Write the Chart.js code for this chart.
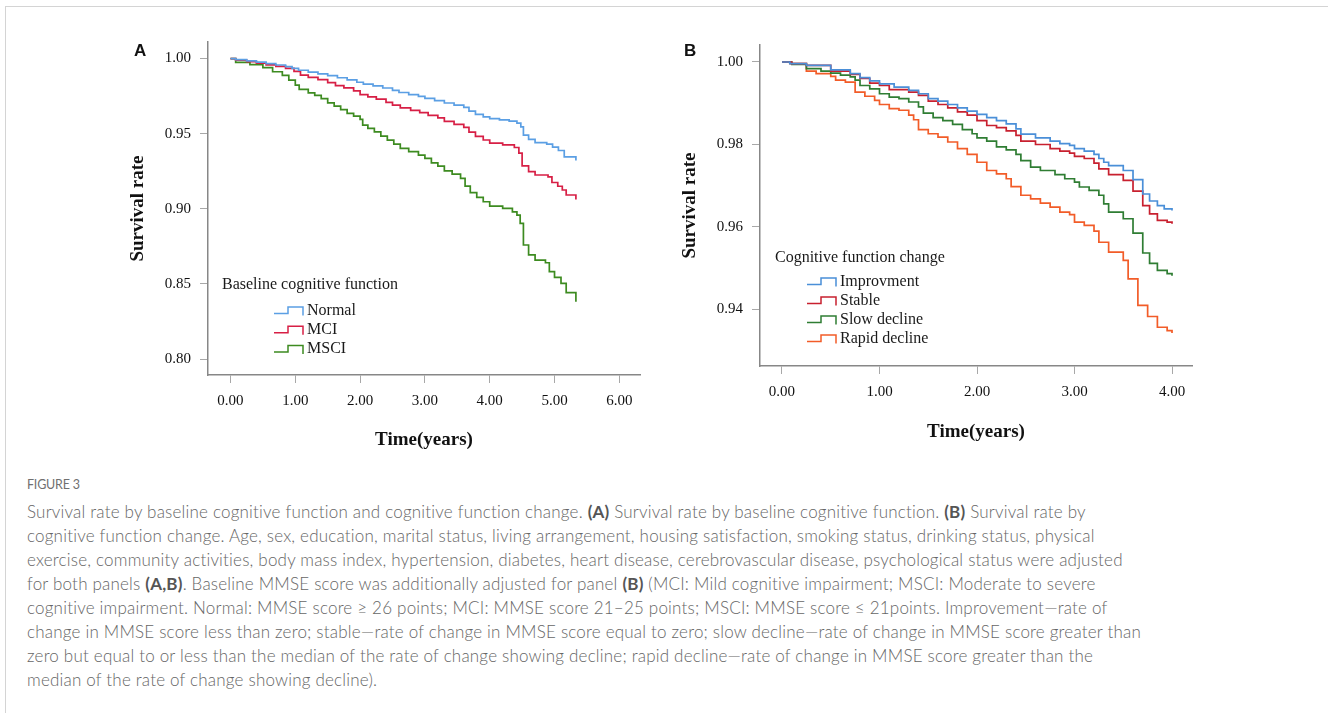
<!DOCTYPE html>
<html>
<head>
<meta charset="utf-8">
<script src="https://cdn.jsdelivr.net/npm/chart.js@4.4.1/dist/chart.umd.min.js"></script>
<style>
    html, body { margin: 0; padding: 0; background: #fff; }
    body { width: 1328px; height: 713px; position: relative; overflow: hidden; }
    .frame { position: absolute; left: 5px; top: 6px; width: 1330px; height: 710px; border-top: 1px solid #d4d4d4; border-left: 1px solid #d4d4d4; }
    #chartA { position: absolute; left: 0; top: 0; }
    #chartB { position: absolute; left: 660px; top: 0; }
    .panel-tag { position: absolute; font: bold 17px "Liberation Sans", Arial, sans-serif; color: #111; line-height: 20px; }
    .fig-label { position: absolute; left: 27px; top: 475px; font: 12.5px Lato, "Open Sans", sans-serif; color: #707070; letter-spacing: -0.2px; line-height: 20px; }
    .caption { position: absolute; left: 27px; top: 500px; font: 300 17px Lato, "Open Sans", sans-serif; color: #666; letter-spacing: 0.2px; line-height: 24px; white-space: nowrap; }
    .caption b { color: #555; font-weight: 700; }
</style>
</head>
<body>
<div class="frame"></div>
<canvas id="chartA" width="660" height="460"></canvas>
<canvas id="chartB" width="668" height="460"></canvas>
<div class="panel-tag" style="left:134px; top:41px;">A</div>
<div class="panel-tag" style="left:684px; top:41px;">B</div>

<div class="fig-label">FIGURE 3</div>
<div class="caption">
Survival rate by baseline cognitive function and cognitive function change. <b>(A)</b> Survival rate by baseline cognitive function. <b>(B)</b> Survival rate by<br>
cognitive function change. Age, sex, education, marital status, living arrangement, housing satisfaction, smoking status, drinking status, physical<br>
exercise, community activities, body mass index, hypertension, diabetes, heart disease, cerebrovascular disease, psychological status were adjusted<br>
for both panels <b>(A,B)</b>. Baseline MMSE score was additionally adjusted for panel <b>(B)</b> (MCI: Mild cognitive impairment; MSCI: Moderate to severe<br>
cognitive impairment. Normal: MMSE score ≥ 26 points; MCI: MMSE score 21–25 points; MSCI: MMSE score ≤ 21points. Improvement—rate of<br>
change in MMSE score less than zero; stable—rate of change in MMSE score equal to zero; slow decline—rate of change in MMSE score greater than<br>
zero but equal to or less than the median of the rate of change showing decline; rapid decline—rate of change in MMSE score greater than the<br>
median of the rate of change showing decline).
</div>

<script>
// ---- panel A: baseline cognitive function ----
const xTicksA = [0, 1, 2, 3, 4, 5, 6];
const yTicksA = [0.80, 0.85, 0.90, 0.95, 1.00];
const groupsA = ["Normal", "MCI", "MSCI"];

const normalT = [0, 0.08, 0.25, 0.4, 0.55, 0.7, 0.85, 0.95, 1.05, 1.2, 1.35, 1.5, 1.65, 1.8, 1.95, 2.05, 2.2, 2.35, 2.5, 2.6, 2.75, 2.9, 3.0, 3.15, 3.3, 3.45, 3.6, 3.68, 3.78, 3.9, 4.0, 4.15, 4.3, 4.42, 4.48, 4.52, 4.6, 4.7, 4.88, 4.97, 5.06, 5.15, 5.33];
const normalS = [1.0, 0.9993, 0.9985, 0.9976, 0.9966, 0.9957, 0.9946, 0.9935, 0.9922, 0.991, 0.9898, 0.9886, 0.9872, 0.9858, 0.9842, 0.983, 0.9818, 0.9804, 0.9788, 0.9774, 0.976, 0.9748, 0.9735, 0.972, 0.9704, 0.969, 0.9675, 0.965, 0.9628, 0.9612, 0.96, 0.9592, 0.9583, 0.957, 0.9545, 0.949, 0.9462, 0.944, 0.943, 0.941, 0.9388, 0.9345, 0.9322];

const mciT = [0, 0.08, 0.25, 0.4, 0.55, 0.7, 0.85, 0.98, 1.08, 1.2, 1.35, 1.5, 1.62, 1.75, 1.9, 2.0, 2.12, 2.25, 2.4, 2.5, 2.62, 2.78, 2.92, 3.05, 3.2, 3.3, 3.45, 3.6, 3.68, 3.78, 3.9, 4.0, 4.2, 4.38, 4.45, 4.5, 4.6, 4.7, 4.9, 4.96, 5.05, 5.12, 5.18, 5.33];
const mciS = [1.0, 0.999, 0.998, 0.997, 0.9958, 0.9948, 0.9935, 0.9915, 0.989, 0.9875, 0.986, 0.984, 0.982, 0.9805, 0.9785, 0.976, 0.9745, 0.973, 0.9708, 0.969, 0.9672, 0.9655, 0.964, 0.9622, 0.9605, 0.9582, 0.9562, 0.9542, 0.951, 0.9482, 0.9458, 0.9437, 0.9425, 0.9408, 0.937, 0.9285, 0.9248, 0.9225, 0.9212, 0.9175, 0.915, 0.9125, 0.9092, 0.9062];

const msciT = [0, 0.08, 0.3, 0.5, 0.65, 0.8, 0.9, 1.0, 1.06, 1.2, 1.3, 1.4, 1.5, 1.6, 1.7, 1.8, 1.9, 2.0, 2.04, 2.12, 2.22, 2.32, 2.42, 2.52, 2.62, 2.75, 2.9, 3.0, 3.1, 3.2, 3.3, 3.42, 3.55, 3.62, 3.7, 3.8, 3.9, 4.0, 4.2, 4.35, 4.42, 4.47, 4.52, 4.6, 4.7, 4.86, 4.92, 5.0, 5.1, 5.18, 5.33];
const msciS = [1.0, 0.9975, 0.996, 0.994, 0.9912, 0.9888, 0.9856, 0.9823, 0.9795, 0.9772, 0.9755, 0.9733, 0.9705, 0.9683, 0.966, 0.9635, 0.9617, 0.9595, 0.9557, 0.9535, 0.9512, 0.9484, 0.9457, 0.943, 0.9402, 0.938, 0.9357, 0.9335, 0.9306, 0.9284, 0.9253, 0.9231, 0.9202, 0.9151, 0.9107, 0.9076, 0.9047, 0.9018, 0.9003, 0.898, 0.8958, 0.8903, 0.8759, 0.8693, 0.8659, 0.8641, 0.8582, 0.8544, 0.8504, 0.8442, 0.8382];

// ---- panel B: cognitive function change ----
const xTicksB = [0, 1, 2, 3, 4];
const yTicksB = [0.94, 0.96, 0.98, 1.00];
const groupsB = ["Improvment", "Stable", "Slow decline", "Rapid decline"];

const improveT = [0, 0.08, 0.25, 0.5, 0.7, 0.8, 0.9, 1.0, 1.15, 1.3, 1.4, 1.5, 1.6, 1.7, 1.8, 1.9, 2.0, 2.1, 2.2, 2.3, 2.4, 2.45, 2.6, 2.75, 2.85, 2.95, 3.0, 3.1, 3.2, 3.25, 3.3, 3.35, 3.5, 3.6, 3.7, 3.77, 3.85, 3.92, 4.0];
const improveS = [1.0, 0.9996, 0.9992, 0.9981, 0.9972, 0.9962, 0.9954, 0.9947, 0.9939, 0.9931, 0.9923, 0.9911, 0.9905, 0.9897, 0.9889, 0.9881, 0.9873, 0.9865, 0.9858, 0.985, 0.9838, 0.9825, 0.9816, 0.9808, 0.9802, 0.9798, 0.979, 0.9784, 0.9776, 0.9766, 0.9757, 0.9749, 0.9737, 0.9715, 0.968, 0.9663, 0.9652, 0.9644, 0.964];

const stableT = [0, 0.1, 0.25, 0.5, 0.7, 0.8, 0.9, 1.0, 1.1, 1.3, 1.4, 1.5, 1.6, 1.7, 1.8, 1.9, 2.0, 2.1, 2.2, 2.3, 2.4, 2.45, 2.6, 2.75, 2.85, 2.95, 3.0, 3.1, 3.2, 3.25, 3.35, 3.5, 3.6, 3.7, 3.77, 3.85, 3.95, 4.0];
const stableS = [1.0, 0.9996, 0.9992, 0.9978, 0.997, 0.996, 0.9949, 0.9943, 0.9933, 0.9927, 0.9919, 0.9905, 0.9897, 0.9889, 0.9879, 0.9871, 0.9858, 0.9846, 0.9841, 0.9833, 0.9822, 0.9808, 0.98, 0.979, 0.9784, 0.9779, 0.9771, 0.9766, 0.9755, 0.9741, 0.9727, 0.9713, 0.9687, 0.9652, 0.9632, 0.9616, 0.9612, 0.9608];

const slowT = [0, 0.1, 0.25, 0.4, 0.5, 0.6, 0.7, 0.75, 0.8, 0.9, 1.0, 1.1, 1.2, 1.3, 1.4, 1.45, 1.55, 1.65, 1.75, 1.85, 1.95, 2.0, 2.1, 2.2, 2.3, 2.4, 2.45, 2.55, 2.65, 2.8, 2.9, 3.0, 3.05, 3.15, 3.25, 3.3, 3.35, 3.5, 3.6, 3.7, 3.77, 3.85, 3.95, 4.0];
const slowS = [1.0, 0.9994, 0.9984, 0.9978, 0.9973, 0.9968, 0.9964, 0.9956, 0.9943, 0.9935, 0.9923, 0.9915, 0.9911, 0.9903, 0.9891, 0.9876, 0.9865, 0.9858, 0.9849, 0.9836, 0.9826, 0.9816, 0.9808, 0.9794, 0.9787, 0.9776, 0.9761, 0.9745, 0.9737, 0.9727, 0.9717, 0.9709, 0.9697, 0.9689, 0.9677, 0.9656, 0.9636, 0.962, 0.9585, 0.9537, 0.9512, 0.9495, 0.9487, 0.9482];

const rapidT = [0, 0.08, 0.25, 0.35, 0.5, 0.55, 0.65, 0.75, 0.85, 0.95, 1.0, 1.1, 1.2, 1.3, 1.35, 1.4, 1.5, 1.6, 1.7, 1.8, 1.9, 2.0, 2.1, 2.2, 2.3, 2.35, 2.45, 2.55, 2.65, 2.75, 2.85, 2.95, 3.0, 3.1, 3.2, 3.25, 3.35, 3.5, 3.55, 3.65, 3.75, 3.85, 3.95, 4.0];
const rapidS = [1.0, 0.9996, 0.9978, 0.9972, 0.9965, 0.9956, 0.9951, 0.9927, 0.9917, 0.9907, 0.9897, 0.9887, 0.9883, 0.9871, 0.986, 0.9836, 0.9826, 0.9818, 0.9806, 0.979, 0.9776, 0.9757, 0.9737, 0.9729, 0.9717, 0.9698, 0.9677, 0.9668, 0.9658, 0.9648, 0.9636, 0.963, 0.9612, 0.9604, 0.959, 0.9563, 0.9539, 0.9519, 0.9474, 0.941, 0.9383, 0.9357, 0.9349, 0.9343];

const serif = "'Liberation Serif', 'Times New Roman', serif";
const tickFont = { family: serif, size: 15 };
const titleFont = { family: serif, size: 19, weight: "bold" };

function toPoints(t, s) {
    return t.map((x, i) => ({ x: x, y: s[i] }));
}

function kmLine(label, t, s, color) {
    return {
        label: label,
        data: toPoints(t, s),
        borderColor: color,
        borderWidth: 1.7,
        pointRadius: 0,
        stepped: true,
        fill: false
    };
}

// step-shaped legend drawn inside the plot, like the SPSS output
const stepLegend = {
    id: "stepLegend",
    afterDraw(chart, args, opts) {
        const ctx = chart.ctx;
        ctx.save();
        ctx.font = "16px " + serif;
        ctx.fillStyle = "#1a1a1a";
        ctx.textBaseline = "middle";
        ctx.fillText(opts.title, opts.titleX, opts.titleY);
        chart.data.datasets.forEach((ds, i) => {
            const y = opts.rowY + i * opts.rowGap;
            const x0 = opts.symX;
            ctx.strokeStyle = ds.borderColor;
            ctx.lineWidth = 1.5;
            ctx.beginPath();
            ctx.moveTo(x0, y + 3);
            ctx.lineTo(x0 + 14, y + 3);
            ctx.lineTo(x0 + 14, y - 3.5);
            ctx.lineTo(x0 + 29, y - 3.5);
            ctx.lineTo(x0 + 29, y + 5);
            ctx.stroke();
            ctx.fillText(ds.label, x0 + 33, y);
        });
        ctx.restore();
    }
};

function xAxis(min, max, ticks, height, padBottom) {
    return {
        type: "linear",
        min: min,
        max: max,
        afterBuildTicks: s => { s.ticks = ticks.map(v => ({ value: v })); },
        afterFit: s => { s.height = height; },
        ticks: { callback: v => v.toFixed(2), font: tickFont, color: "#111", padding: 9, maxRotation: 0, autoSkip: false },
        grid: { drawOnChartArea: false, drawTicks: true, tickLength: 8, color: "#a8a8a8" },
        border: { display: true, color: "#878787", width: 1.5 },
        title: { display: true, text: "Time(years)", font: titleFont, color: "#111", padding: { top: 0, bottom: padBottom } }
    };
}

function yAxis(min, max, ticks, width, padTop) {
    return {
        type: "linear",
        min: min,
        max: max,
        afterBuildTicks: s => { s.ticks = ticks.map(v => ({ value: v })); },
        afterFit: s => { s.width = width; },
        ticks: { callback: v => v.toFixed(2), font: tickFont, color: "#111", padding: 9, autoSkip: false },
        grid: { drawOnChartArea: false, drawTicks: true, tickLength: 8, color: "#a8a8a8" },
        border: { display: true, color: "#878787", width: 1.5 },
        title: { display: true, text: "Survival rate", font: titleFont, color: "#111", padding: { top: padTop, bottom: 0 } }
    };
}

new Chart(document.getElementById("chartA"), {
    type: "line",
    data: {
        datasets: [
            kmLine(groupsA[0], normalT, normalS, "#5b9fe4"),
            kmLine(groupsA[1], mciT, mciS, "#d71f45"),
            kmLine(groupsA[2], msciT, msciS, "#3d8b20")
        ]
    },
    options: {
        responsive: false,
        animation: false,
        layout: { padding: { top: 42, right: 20, left: 0, bottom: 0 } },
        scales: {
            x: xAxis(-0.347, 6.319, xTicksA, 85, 8.6),
            y: yAxis(0.7894, 1.011, yTicksA, 208, 126.6)
        },
        plugins: {
            legend: { display: false },
            tooltip: { enabled: false },
            stepLegend: { title: "Baseline cognitive function", titleX: 222, titleY: 285, symX: 274, rowY: 310.5, rowGap: 19.3 }
        }
    },
    plugins: [stepLegend]
});

new Chart(document.getElementById("chartB"), {
    type: "line",
    data: {
        datasets: [
            kmLine(groupsB[0], improveT, improveS, "#4a8fd8"),
            kmLine(groupsB[1], stableT, stableS, "#c8202f"),
            kmLine(groupsB[2], slowT, slowS, "#2f7d33"),
            kmLine(groupsB[3], rapidT, rapidS, "#f25c28")
        ]
    },
    options: {
        responsive: false,
        animation: false,
        layout: { padding: { top: 45, right: 136, left: 0, bottom: 0 } },
        scales: {
            x: xAxis(-0.2256, 4.205, xTicksB, 94, 16.6),
            y: yAxis(0.9263, 1.00412, yTicksB, 100, 18.6)
        },
        plugins: {
            legend: { display: false },
            tooltip: { enabled: false },
            stepLegend: { title: "Cognitive function change", titleX: 115, titleY: 257.5, symX: 147, rowY: 281.5, rowGap: 19 }
        }
    },
    plugins: [stepLegend]
});
</script>
</body>
</html>
